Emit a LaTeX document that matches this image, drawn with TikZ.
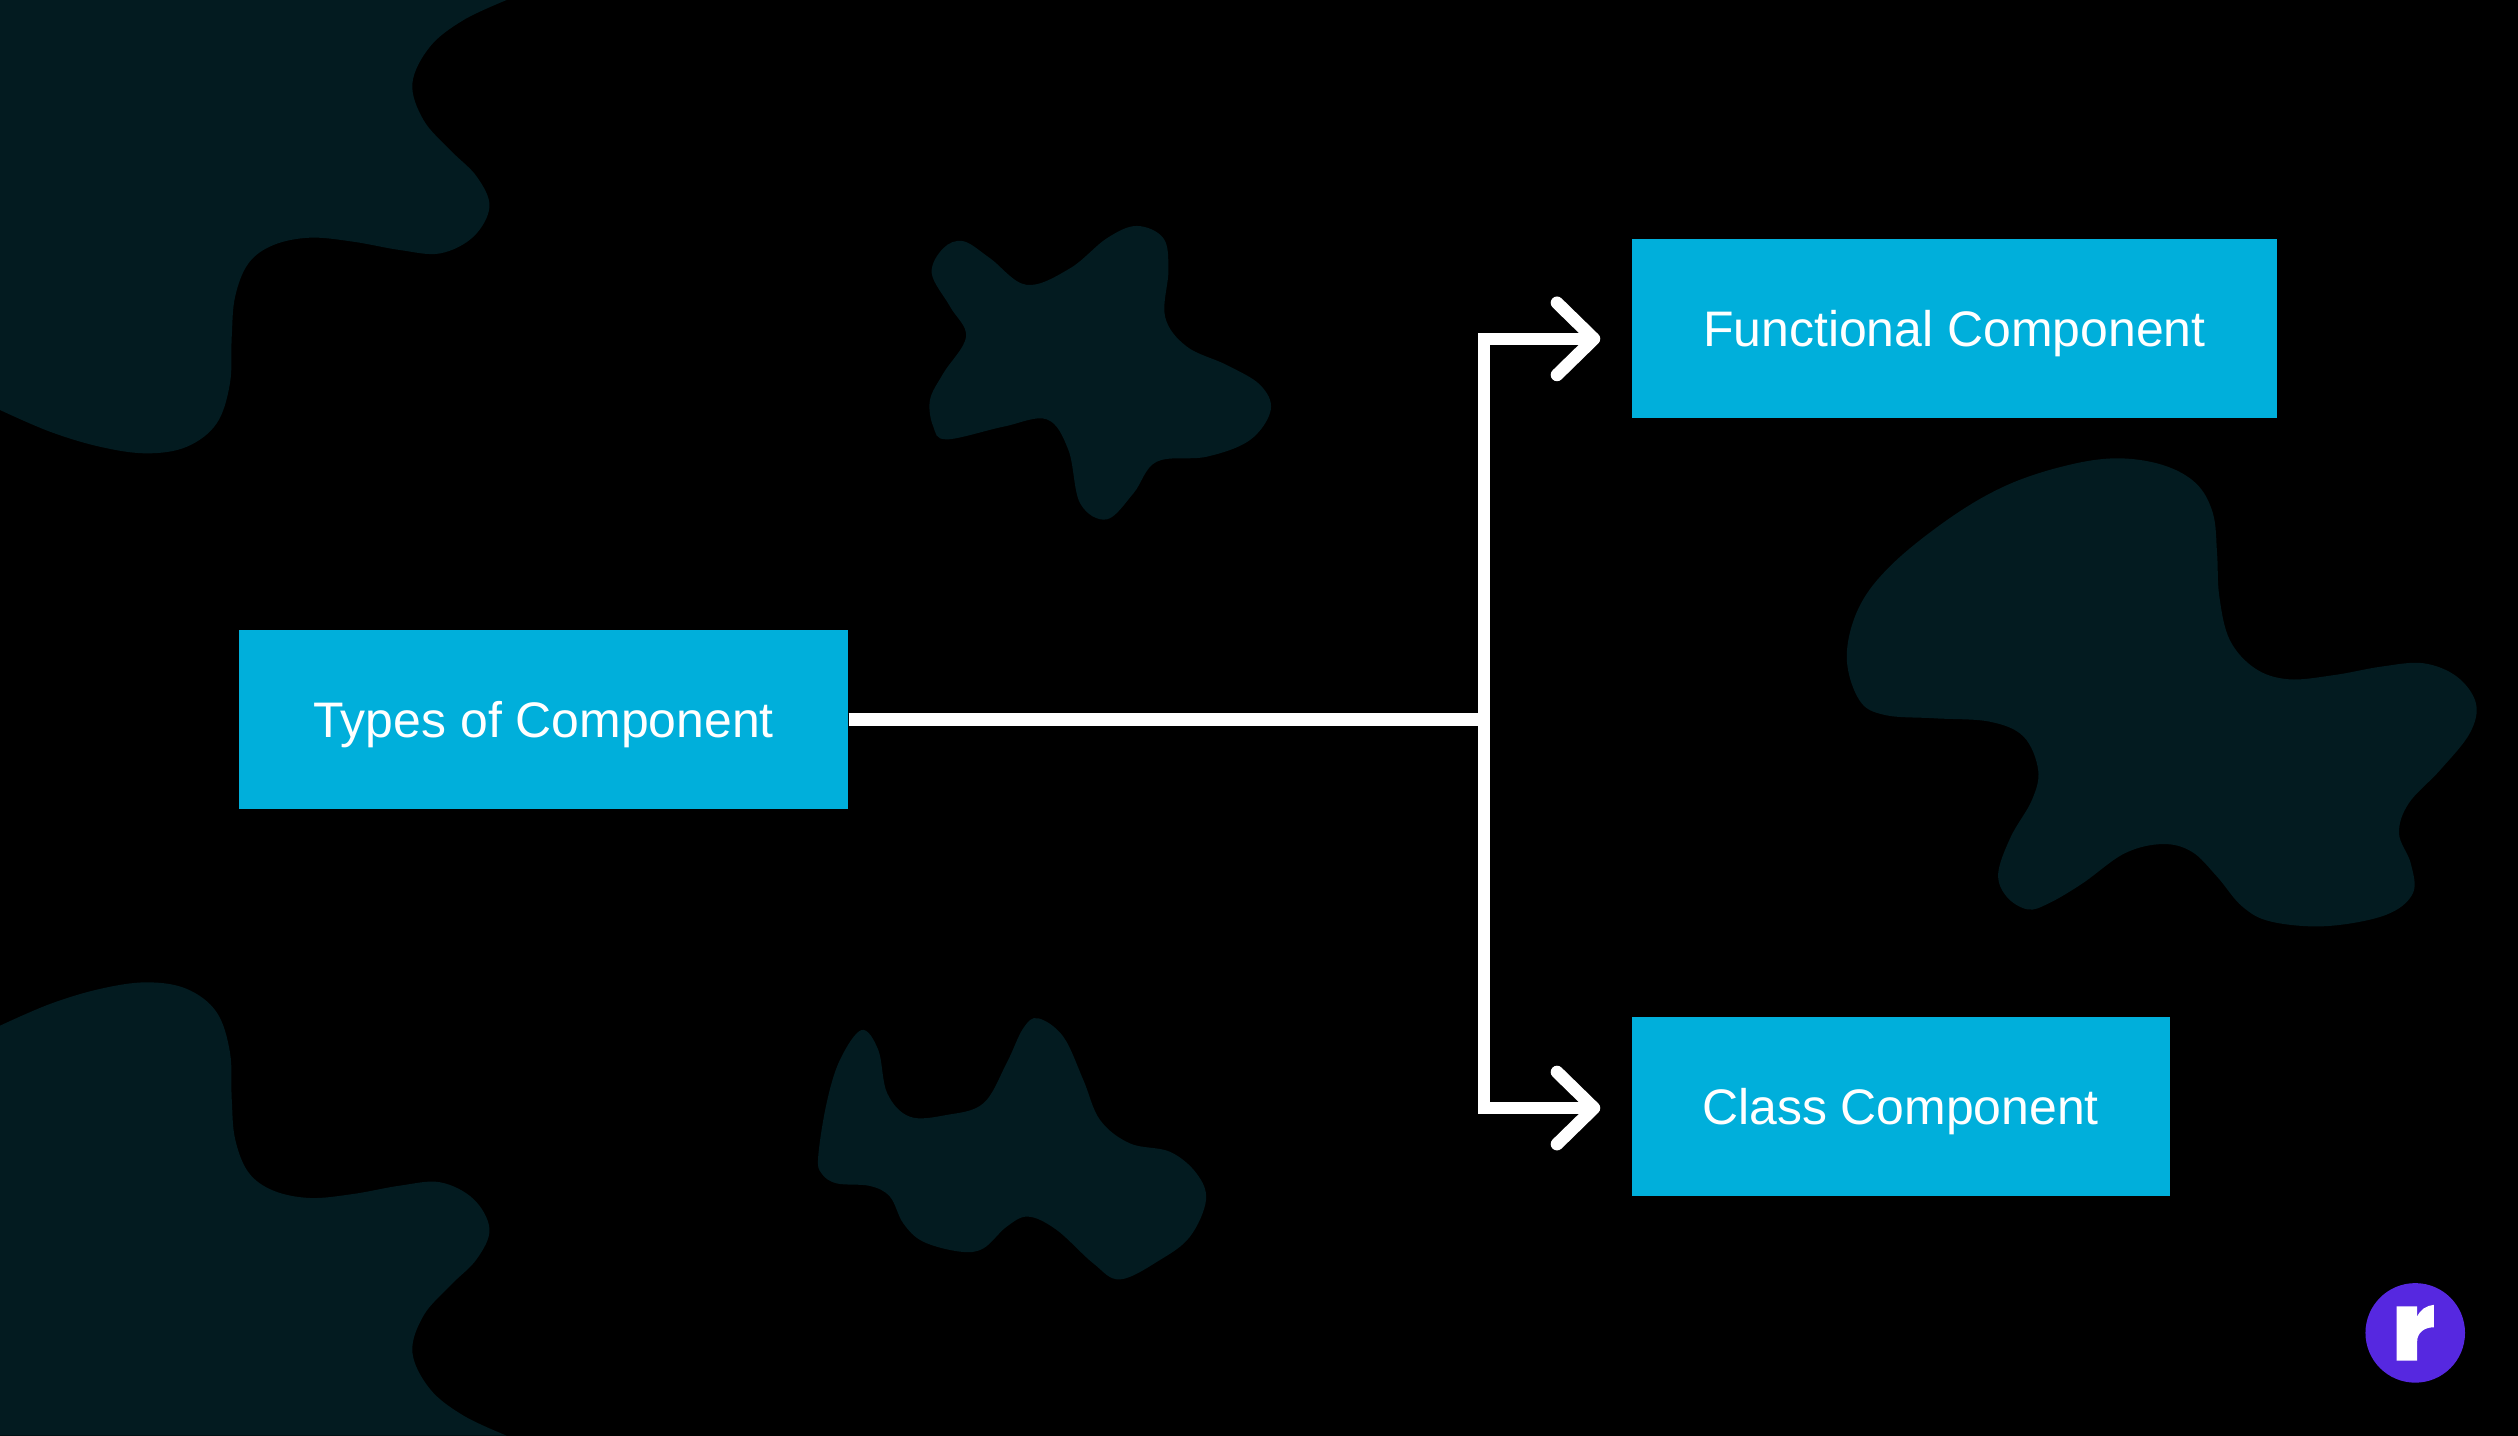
\documentclass[tikz,border=0pt]{standalone}
\usepackage{fontspec}
\setmainfont{Liberation Sans}
\usetikzlibrary{arrows.meta}
\definecolor{pagebg}{HTML}{000000}
\definecolor{blobteal}{HTML}{031B20}
\definecolor{boxblue}{HTML}{00AFDB}
\definecolor{logoviolet}{HTML}{5628E0}
\tikzset{
  compbox/.style={fill=boxblue,text=white,minimum height=111*0.016059cm,inner sep=0pt,text height=10.15pt,text depth=0pt,font=\fontsize{14.2}{16}\selectfont},
  blob/.style={fill=blobteal,draw=none},
  link/.style={draw=white,line width=3.6pt,line join=miter},
  arrowlink/.style={link,-{Straight Barb[round,length=10.5pt,width=20.5pt]}},
}
\newcommand{\cornerblob}{plot[smooth,tension=0.6] coordinates {(315.5,0) (288.6,12.5) (267.8,29) (256.8,51.9) (263.7,74.7) (280.3,93.4) (296.9,110) (304.8,128.7) (294.8,147.4) (274,157.8) (249.1,155.7) (220,150.5) (193.1,148) (170.2,152.6) (154.7,164) (146.4,184.8) (144.3,209.7) (143.2,238.7) (134.9,263.7) (116.3,278.2) (91.3,282.3) (62.3,278.2) (31.1,268.8) (0,255.3)} -- (0,0) -- cycle}
\begin{document}
\begin{tikzpicture}[x=0.016059cm,y=-0.016059cm]
  \fill[pagebg] (0,0) rectangle (1568,894);
  \useasboundingbox (0,0) rectangle (1568,894);

  \path[blob] \cornerblob;
  \path[blob,shift={(0,894)},yscale=-1] \cornerblob;
  \path[blob] plot[smooth cycle,tension=0.6] coordinates {(599.9,150.2) (616.5,160.8) (639.3,177.4) (666.3,167.1) (689.2,148.4) (707.9,140.7) (724.5,148.4) (727.6,168.1) (725.5,197.2) (739,215.8) (763.9,227.3) (784.7,239.7) (791.3,255.3) (778.4,274) (751.4,284.4) (720.3,287.5) (705.8,307.2) (689.2,323.4) (672.6,313.4) (665.3,280.2) (651.8,261.1) (624.8,265.7) (589.5,273.6) (581.2,265.7) (579.1,249.1) (587.4,232.5) (601.6,209.6) (591.6,190.9) (580.2,170.2) (587.4,154.6)};
  \path[blob] plot[smooth cycle,tension=0.6] coordinates {(1317.7,285.4) (1346.6,289.5) (1367.5,301) (1378,319.6) (1380.6,344.6) (1382,371.5) (1388.5,398.5) (1404.2,416.2) (1425.2,423) (1454,420.3) (1482.9,415.1) (1509,413) (1530,421.4) (1541.8,438) (1537.9,456.7) (1519.5,479.5) (1499.9,500.3) (1493.9,519) (1501.2,537.6) (1502.5,556.3) (1485.5,569.8) (1448.8,576.7) (1414.7,574) (1396.4,564.6) (1380.6,545.9) (1364.9,530.4) (1346.6,525.6) (1323,531.4) (1296.8,550.1) (1275.8,562.5) (1262.7,566.3) (1249.6,558.4) (1244.3,543.9) (1252.2,521) (1265.3,498.2) (1269.2,479.5) (1260.1,458.7) (1239.1,449.4) (1205,447.3) (1173.6,445.2) (1157.8,435.9) (1150,408.9) (1157.8,377.8) (1178.8,350.8) (1215.5,321.7) (1250,302) (1286.3,290)};
  \path[blob] plot[smooth cycle,tension=0.6] coordinates {(536.5,641.4) (546.9,653.8) (552.5,680.8) (566.6,695.4) (589.4,694.3) (612.3,687.1) (626.8,662.1) (637.2,640.3) (646.5,634.1) (662.1,645.5) (674.6,672.5) (685,697.4) (703.6,712) (728.5,717.2) (745.1,730.7) (751,747.3) (741,770.1) (722.3,784.6) (697.4,796.7) (680.8,786.7) (658,765.9) (640.3,757.6) (626.8,763.9) (612.3,777.4) (597.8,779.4) (574.9,773.2) (562.5,761.8) (554.2,745.2) (541.7,738.5) (521,736.9) (511.6,730.7) (509.5,720.3) (514.7,687.1) (523,660.1)};

  \node[compbox,minimum width=379*0.016059cm] (types) at (338.5,448) {Types of Component};
  \node[compbox,minimum width=402*0.016059cm] (functional) at (1217,204.5) {Functional Component};
  \node[compbox,minimum width=335*0.016059cm] (class) at (1183.5,689) {Class Component};

  \coordinate (hub) at (924,448);
  \coordinate (tipf) at (996.5,211);
  \coordinate (tipc) at (996.5,690);

  \draw[link] (types.east) -- (hub);
  \draw[arrowlink] (hub) |- (tipf);
  \draw[arrowlink] (hub) |- (tipc);

  \node[circle,fill=logoviolet,minimum size=62*0.016059cm,inner sep=0pt] (logo) at (1504,830) {};
  \fill[white] (1492.4,813.5) -- (1505.2,813.5) -- (1505.2,820) .. controls (1507,815.5) and (1511,813) .. (1515.6,812.5) -- (1515.6,826.5) .. controls (1509.5,826.5) and (1505.2,830) .. (1505.2,835.4) -- (1505.2,847.3) -- (1492.4,847.3) -- cycle;
\end{tikzpicture}
\end{document}
